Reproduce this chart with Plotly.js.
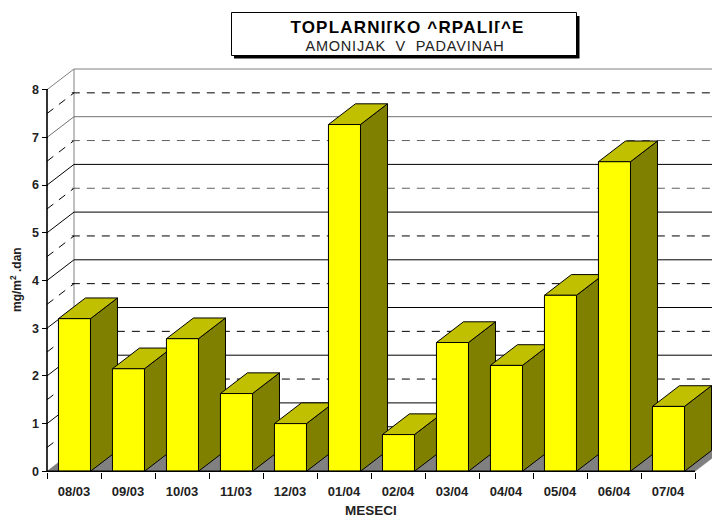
<!DOCTYPE html>
<html><head><meta charset="utf-8">
<script src="https://cdn.plot.ly/plotly-3.0.1.min.js"></script>
<style>html,body{margin:0;padding:0;background:#fff}</style></head>
<body><div id="chart" style="width:712px;height:517px"></div>
<script>
const categories = ['08/03','09/03','10/03','11/03','12/03','01/04','02/04','03/04','04/04','05/04','06/04','07/04'];
const values = [3.2,2.15,2.78,1.63,1.0,7.27,0.77,2.7,2.22,3.69,6.49,1.36];
const yTicks = [0,1,2,3,4,5,6,7,8];
const titleLine1 = 'TOPLARNI[KO ^RPALI[^E';
const titleLine2 = 'AMONIJAK\u00A0\u00A0V\u00A0\u00A0PADAVINAH';

const W=712,H=517,ML=31,MT=60,MB=43;
const UX=54,UY=47.7,X0=47,Y0=471.3;
const DX=0.5,DY=20.7/UY;
const xr=[(ML-X0)/UX,(W-X0)/UX];
const yr=[(Y0-(H-MB))/UY,(Y0-MT)/UY];
const px=p=>(p-ML)/(W-ML), py=p=>(H-MB-p)/(H-MT-MB);
const FONT='Liberation Sans, Arial, sans-serif';
const traces=[];
function line(x,y,color,width,dash){traces.push({type:'scatter',mode:'lines',x,y,hoverinfo:'skip',showlegend:false,
  line:{color,width,dash:dash||'solid'}});}
function poly(x,y,fill,stroke,w){traces.push({type:'scatter',mode:'lines',x,y,fill:'toself',fillcolor:fill,hoverinfo:'skip',showlegend:false,
  line:{color:stroke,width:w}});}
poly([0,DX,12+DX,12,0],[0,DY,DY,0,0],'#808080','#808080',0.5);
line([DX,DX],[DY,8+DY],'#808080',1);
yTicks.forEach(k=>{
  const c=k>=7?'#707070':'#000';
  if(k>0) line([0,DX,xr[1]],[k,k+DY,k+DY],k==8?'#808080':c,1);
  if(k<8){
    line([0,DX],[k+.5,k+.5+DY],'#000',1,'8px,7px');
    line([DX-0.04,xr[1]],[k+.5+DY,k+.5+DY],k==7?'#000':(k>=5?'#606060':'#000'),1,'8px,7px');
  }
});
const L=0.212,R=0.805;
values.forEach((v,i)=>{
  const a=i+L,b=i+R;
  poly([b,b+DX,b+DX,b,b],[0,DY,v+DY,v,0],'#808000','#000',1);
  poly([a,a+DX,b+DX,b,a],[v,v+DY,v+DY,v,v],'#C0C000','#000',1);
  poly([a,b,b,a,a],[0,0,v,v,0],'#FFFF00','#000',1);
});
line([0,0],[0,8],'#000',1.6);
line([0,12],[0,0],'#000',1.6);
traces.push({type:'scatter',mode:'lines',x:[0],y:[0],xaxis:'x2',hoverinfo:'skip',showlegend:false,line:{width:0}});

const layout={
  width:W,height:H,margin:{l:ML,r:0,t:MT,b:MB,pad:0},paper_bgcolor:'#fff',plot_bgcolor:'#fff',showlegend:false,
  font:{family:FONT,color:'#000'},
  xaxis:{range:xr,anchor:'free',position:py(471.5),tickmode:'array',tickvals:[0,1,2,3,4,5,6,7,8,9,10,11,12],
    showticklabels:false,ticks:'outside',ticklen:6,tickwidth:1,tickcolor:'#000',showgrid:false,zeroline:false,showline:false},
  xaxis2:{range:xr,overlaying:'x',anchor:'free',position:py(471.5),tickmode:'array',tickvals:categories.map((c,i)=>i+.5),ticktext:categories,
    ticks:'',ticklabelstandoff:10,tickfont:{family:FONT,size:13,color:'#222',weight:'bold'},showgrid:false,zeroline:false,showline:false,side:'bottom'},
  yaxis:{range:yr,anchor:'free',position:px(47.5),tickmode:'array',tickvals:yTicks,ticks:'outside',ticklen:6,tickwidth:1,tickcolor:'#000',
    tickfont:{family:FONT,size:12.5,color:'#222',weight:'bold'},showgrid:false,zeroline:false,showline:false},
  shapes:[
    {type:'rect',xref:'paper',yref:'paper',x0:px(234),x1:px(579.5),y0:py(16),y1:py(58.5),fillcolor:'#000',line:{width:0}},
    {type:'rect',xref:'paper',yref:'paper',x0:px(231.5),x1:px(576.5),y0:py(12.5),y1:py(55.5),fillcolor:'#fff',line:{color:'#000',width:1}}
  ],
  annotations:[
    {xref:'paper',yref:'paper',x:px(407),y:py(27.5),xanchor:'center',yanchor:'middle',text:titleLine1,showarrow:false,
      font:{family:FONT,size:17,color:'#000',weight:'bold'}},
    {xref:'paper',yref:'paper',x:px(405),y:py(33),xanchor:'center',yanchor:'top',text:titleLine2,showarrow:false,
      width:320,height:21,valign:'bottom',bgcolor:'#fff',borderpad:0,borderwidth:0,
      font:{family:FONT,size:14.5,color:'#222'}},
    {xref:'paper',yref:'paper',x:px(370.5),y:py(510.5),xanchor:'center',yanchor:'middle',text:'MESECI',showarrow:false,
      height:13,borderpad:0,font:{family:FONT,size:13.5,color:'#222',weight:'bold'}},
    {xref:'paper',yref:'paper',x:px(16),y:py(280),xanchor:'center',yanchor:'middle',textangle:-90,text:'mg/m<sup>2</sup> .dan',showarrow:false,
      font:{family:FONT,size:12,color:'#222',weight:'bold'}}
  ]
};
Plotly.newPlot('chart',traces,layout,{displayModeBar:false,staticPlot:true}).then(()=>{
  const a=document.querySelectorAll('.annotation-text');
  if(a[0]) a[0].style.letterSpacing='1.2px';
  if(a[1]) a[1].style.letterSpacing='0.8px';
});
</script></body></html>
